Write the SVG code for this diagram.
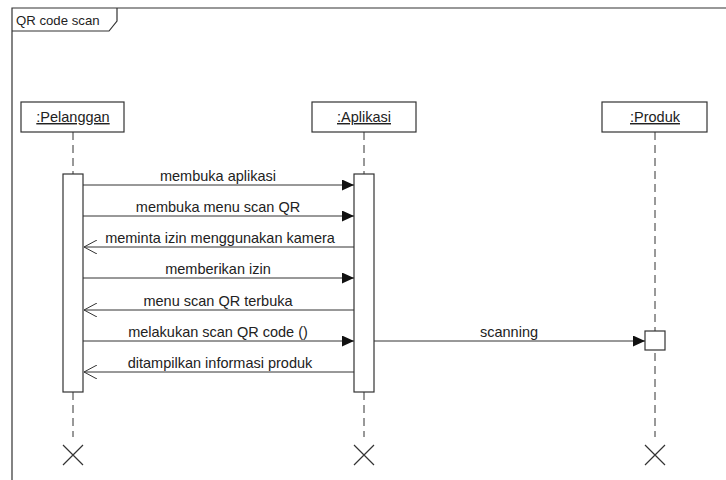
<svg xmlns="http://www.w3.org/2000/svg" width="726" height="480" viewBox="0 0 726 480">
<defs>
<style>
.frame{fill:none;stroke:#333;stroke-width:1.2}
.box{fill:#fff;stroke:#333;stroke-width:1.2}
.life{stroke:#333;stroke-width:1;stroke-dasharray:8,5;fill:none}
.msg{stroke:#333;stroke-width:1;fill:none}
.x{stroke:#333;stroke-width:1.2;fill:none}
text{font-family:"Liberation Sans",Arial,sans-serif;font-size:14.5px;fill:#222}
.lbl{text-anchor:middle}
</style>
<marker id="filled" markerWidth="13" markerHeight="11" refX="12" refY="5.5" orient="auto" markerUnits="userSpaceOnUse">
<path d="M0,0 L12,5.5 L0,11 Z" fill="#111"/>
</marker>
<marker id="open" markerWidth="14" markerHeight="14" refX="13" refY="7" orient="auto" markerUnits="userSpaceOnUse">
<path d="M0,0 L13,7 L0,14" fill="none" stroke="#333" stroke-width="1"/>
</marker>
</defs>
<rect width="726" height="480" fill="#fff"/>
<g id="frame">
<path class="frame" d="M12,480 L12,8 L730,8"/>
<path class="frame" d="M12,31 L109,31 L117,21 L117,8"/>
<text x="16" y="25" style="font-size:13.2px">QR code scan</text>
</g>
<g id="pelanggan">
<rect class="box" x="21" y="102" width="103" height="30"/>
<text class="lbl" x="73" y="122" text-decoration="underline">:Pelanggan</text>
<line class="life" x1="73" y1="132" x2="73" y2="174"/>
<line class="life" x1="73" y1="392" x2="73" y2="437"/>
<rect class="box" x="63" y="174" width="20" height="218"/>
<path class="x" d="M63,445 L83,465 M83,445 L63,465"/>
</g>
<g id="aplikasi">
<rect class="box" x="312" y="102" width="104" height="30"/>
<text class="lbl" x="364" y="122" text-decoration="underline">:Aplikasi</text>
<line class="life" x1="364" y1="132" x2="364" y2="174"/>
<line class="life" x1="364" y1="392" x2="364" y2="437"/>
<rect class="box" x="354" y="174" width="20" height="218"/>
<path class="x" d="M354,445 L374,465 M374,445 L354,465"/>
</g>
<g id="produk">
<rect class="box" x="602" y="102" width="105" height="30"/>
<text class="lbl" x="655" y="122" text-decoration="underline">:Produk</text>
<line class="life" x1="655" y1="132" x2="655" y2="437"/>
<rect class="box" x="645" y="331" width="20" height="19"/>
<path class="x" d="M645,445 L665,465 M665,445 L645,465"/>
</g>
<g id="connectors">
<line class="msg" x1="83" y1="185" x2="354" y2="185" marker-end="url(#filled)"/>
<text class="lbl" x="218" y="181">membuka aplikasi</text>
<line class="msg" x1="83" y1="216" x2="354" y2="216" marker-end="url(#filled)"/>
<text class="lbl" x="218" y="212">membuka menu scan QR</text>
<line class="msg" x1="354" y1="247" x2="84" y2="247" marker-end="url(#open)"/>
<text class="lbl" x="220" y="243">meminta izin menggunakan kamera</text>
<line class="msg" x1="83" y1="278" x2="354" y2="278" marker-end="url(#filled)"/>
<text class="lbl" x="218" y="274">memberikan izin</text>
<line class="msg" x1="354" y1="310" x2="84" y2="310" marker-end="url(#open)"/>
<text class="lbl" x="218" y="306">menu scan QR terbuka</text>
<line class="msg" x1="83" y1="341" x2="354" y2="341" marker-end="url(#filled)"/>
<text class="lbl" x="218" y="337">melakukan scan QR code ()</text>
<line class="msg" x1="354" y1="372" x2="84" y2="372" marker-end="url(#open)"/>
<text class="lbl" x="220" y="368">ditampilkan informasi produk</text>
<line class="msg" x1="374" y1="341" x2="645" y2="341" marker-end="url(#filled)"/>
<text class="lbl" x="509" y="337">scanning</text>
</g>
</svg>
